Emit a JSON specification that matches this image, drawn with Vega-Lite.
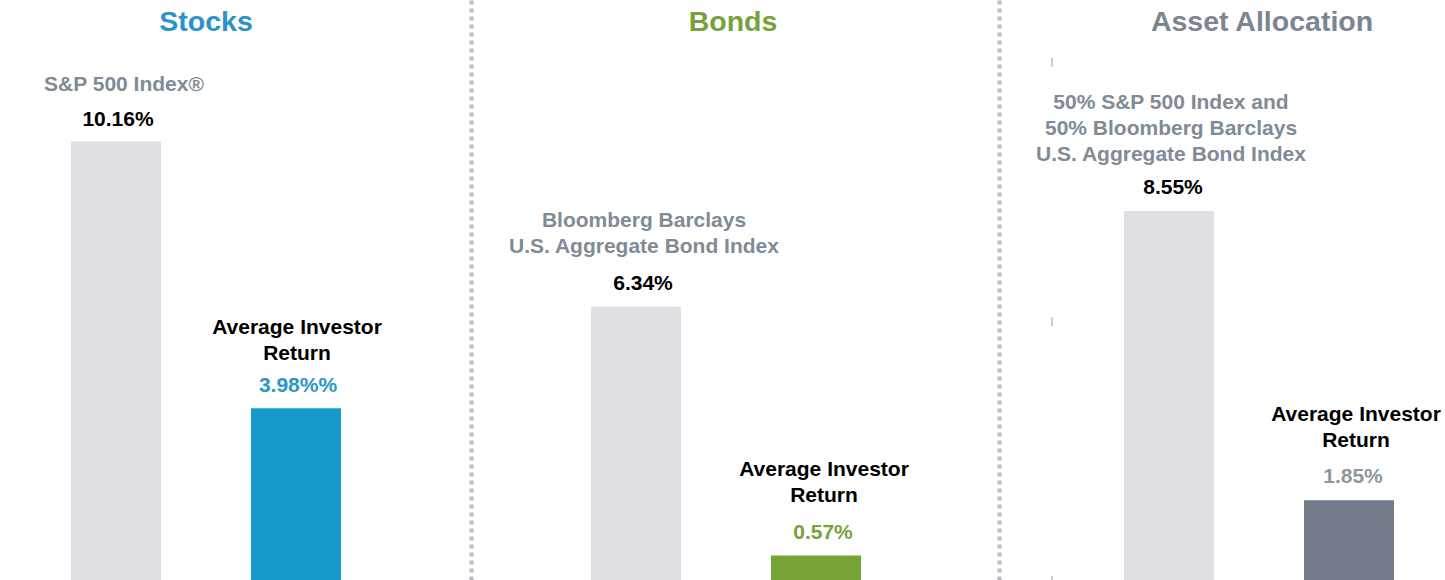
{
  "$schema": "https://vega.github.io/schema/vega-lite/v6.json",
  "padding": 0,
  "bounds": "flush",
  "spacing": 0,
  "background": "#ffffff",
  "config": {"view": {"stroke": null}, "font": "Liberation Sans"},
  "data": {"values": [
    {"panel": "Stocks", "series": "Index", "label": "S&P 500 Index®", "value": 10.16, "shown": "10.16%"},
    {"panel": "Stocks", "series": "Average Investor Return", "label": "Average Investor\nReturn", "value": 3.98, "shown": "3.98%%"},
    {"panel": "Bonds", "series": "Index", "label": "Bloomberg Barclays\nU.S. Aggregate Bond Index", "value": 6.34, "shown": "6.34%"},
    {"panel": "Bonds", "series": "Average Investor Return", "label": "Average Investor\nReturn", "value": 0.57, "shown": "0.57%"},
    {"panel": "Asset Allocation", "series": "Index", "label": "50% S&P 500 Index and\n50% Bloomberg Barclays\nU.S. Aggregate Bond Index", "value": 8.55, "shown": "8.55%"},
    {"panel": "Asset Allocation", "series": "Average Investor Return", "label": "Average Investor\nReturn", "value": 1.85, "shown": "1.85%"}
  ]},
  "hconcat": [
    {
      "width": 471, "height": 580,
      "transform": [{"filter": "datum.panel == 'Stocks'"}],
      "encoding": {
        "x": {"field": "series", "type": "nominal", "sort": ["Index", "Average Investor Return"], "scale": {"range": [71, 341], "paddingInner": 0.5, "paddingOuter": 0}, "axis": null},
        "y": {"field": "value", "type": "quantitative", "scale": {"domain": [0, 13.44], "nice": false, "zero": true}, "axis": null}
      },
      "layer": [
        {"mark": {"type": "bar"}, "encoding": {"color": {"condition": {"test": "datum.series == 'Index'", "value": "#dfe0e4"}, "value": "#1899cd"}}},
        {"mark": {"type": "text", "baseline": "middle", "dy": -22, "dx": 2, "fontSize": 21, "fontWeight": "bold"}, "encoding": {"text": {"field": "shown"}, "color": {"condition": {"test": "datum.series == 'Index'", "value": "#000000"}, "value": "#2b96c8"}}},
        {"transform": [{"filter": "datum.series == 'Index'"}], "mark": {"type": "text", "baseline": "bottom", "dy": -47, "dx": 8, "lineBreak": "\n", "lineHeight": 26, "fontSize": 21, "fontWeight": "bold", "color": "#7f8b96"}, "encoding": {"text": {"field": "label"}}},
        {"transform": [{"filter": "datum.series != 'Index'"}], "mark": {"type": "text", "baseline": "bottom", "dy": -70, "dx": 1, "lineBreak": "\n", "lineHeight": 26, "fontSize": 21, "fontWeight": "bold", "color": "#000000"}, "encoding": {"text": {"field": "label"}}},
        {"transform": [{"filter": "datum.series == 'Index'"}], "mark": {"type": "text", "baseline": "middle", "fontSize": 28.5, "fontWeight": "bold", "color": "#2a93c9"}, "encoding": {"x": {"datum": "Index", "bandPosition": 1.5}, "y": {"datum": 12.93}, "text": {"field": "panel"}}}
      ]
    },
    {
      "width": 591, "height": 580,
      "transform": [{"filter": "datum.panel == 'Bonds'"}],
      "encoding": {
        "x": {"field": "series", "type": "nominal", "sort": ["Index", "Average Investor Return"], "scale": {"range": [120, 390], "paddingInner": 0.5, "paddingOuter": 0}, "axis": null},
        "y": {"field": "value", "type": "quantitative", "scale": {"domain": [0, 13.44], "nice": false, "zero": true}, "axis": {"domain": true, "domainColor": "#b6bcc4", "domainWidth": 4, "domainDash": [4, 4], "ticks": false, "labels": false, "grid": false, "title": null}}
      },
      "layer": [
        {"mark": {"type": "bar"}, "encoding": {"color": {"condition": {"test": "datum.series == 'Index'", "value": "#dfe0e4"}, "value": "#76a334"}}},
        {"mark": {"type": "text", "baseline": "middle", "dy": -22, "dx": 7, "fontSize": 21, "fontWeight": "bold"}, "encoding": {"text": {"field": "shown"}, "color": {"condition": {"test": "datum.series == 'Index'", "value": "#000000"}, "value": "#77a23a"}}},
        {"mark": {"type": "text", "baseline": "bottom", "dy": -75, "dx": 8, "lineBreak": "\n", "lineHeight": 26, "fontSize": 21, "fontWeight": "bold"}, "encoding": {"text": {"field": "label"}, "color": {"condition": {"test": "datum.series == 'Index'", "value": "#7f8b96"}, "value": "#000000"}}},
        {"transform": [{"filter": "datum.series == 'Index'"}], "mark": {"type": "text", "baseline": "middle", "dx": 7, "fontSize": 28.5, "fontWeight": "bold", "color": "#77a23b"}, "encoding": {"x": {"datum": "Index", "bandPosition": 1.5}, "y": {"datum": 12.93}, "text": {"field": "panel"}}}
      ]
    },
    {
      "width": 383, "height": 580,
      "transform": [{"filter": "datum.panel == 'Asset Allocation'"}],
      "resolve": {"axis": {"y": "independent"}},
      "encoding": {
        "x": {"field": "series", "type": "nominal", "sort": ["Index", "Average Investor Return"], "scale": {"range": [62, 332], "paddingInner": 0.5, "paddingOuter": 0}, "axis": null}
      },
      "layer": [
        {"mark": {"type": "bar"}, "encoding": {
          "y": {"field": "value", "type": "quantitative", "scale": {"domain": [0, 13.44], "nice": false, "zero": true}, "axis": {"orient": "left", "offset": 63, "domain": true, "domainColor": "#b6bcc4", "domainWidth": 4, "domainDash": [4, 4], "ticks": false, "labels": false, "grid": false, "title": null}},
          "color": {"condition": {"test": "datum.series == 'Index'", "value": "#dfe0e4"}, "value": "#737b88"}}},
        {"transform": [{"filter": "datum.series == 'Index'"}], "mark": {"type": "rule", "color": "#a3a7ad", "strokeWidth": 3}, "encoding": {
          "y": {"datum": 0, "type": "quantitative", "scale": {"domain": [0, 13.44], "nice": false, "zero": true}, "axis": {"orient": "left", "offset": 10, "values": [0, 6, 12], "domain": false, "labels": false, "ticks": true, "tickSize": 1, "tickWidth": 9, "tickColor": "#9aa0a6", "grid": false, "title": null}}}},
        {"mark": {"type": "text", "baseline": "middle", "dy": -23, "dx": 4, "fontSize": 21, "fontWeight": "bold"}, "encoding": {
          "y": {"field": "value", "type": "quantitative", "scale": {"domain": [0, 13.44], "nice": false, "zero": true}, "axis": null},
          "text": {"field": "shown"}, "color": {"condition": {"test": "datum.series == 'Index'", "value": "#000000"}, "value": "#8d97a1"}}},
        {"transform": [{"filter": "datum.series == 'Index'"}], "mark": {"type": "text", "baseline": "bottom", "dy": -98, "dx": 2, "lineBreak": "\n", "lineHeight": 26, "fontSize": 21, "fontWeight": "bold", "color": "#7f8b96"}, "encoding": {
          "y": {"field": "value", "type": "quantitative", "scale": {"domain": [0, 13.44], "nice": false, "zero": true}, "axis": null},
          "text": {"field": "label"}}},
        {"transform": [{"filter": "datum.series != 'Index'"}], "mark": {"type": "text", "baseline": "bottom", "dy": -75, "dx": 7, "lineBreak": "\n", "lineHeight": 26, "fontSize": 21, "fontWeight": "bold", "color": "#000000"}, "encoding": {
          "y": {"field": "value", "type": "quantitative", "scale": {"domain": [0, 13.44], "nice": false, "zero": true}, "axis": null},
          "text": {"field": "label"}}},
        {"transform": [{"filter": "datum.series == 'Index'"}], "mark": {"type": "text", "baseline": "middle", "dx": 3, "fontSize": 28.5, "fontWeight": "bold", "color": "#7b8692"}, "encoding": {
          "x": {"datum": "Index", "bandPosition": 1.5},
          "y": {"datum": 12.93, "type": "quantitative", "scale": {"domain": [0, 13.44], "nice": false, "zero": true}, "axis": null},
          "text": {"field": "panel"}}}
      ]
    }
  ]
}
